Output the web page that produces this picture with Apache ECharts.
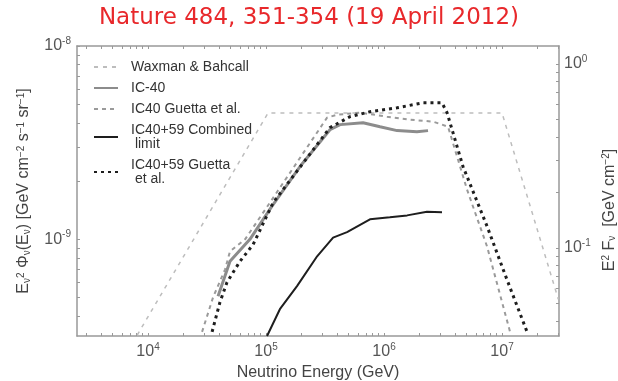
<!DOCTYPE html>
<html>
<head>
<meta charset="utf-8">
<script src="https://cdn.jsdelivr.net/npm/echarts@6/dist/echarts.min.js"></script>
<style>
	html, body { margin: 0; padding: 0; background: #fff; }
	#chart { width: 618px; height: 381px; }
</style>
</head>
<body>
<div id="chart"></div>
<script>
	// energies in GeV, fluxes in GeV cm^-2 s^-1 sr^-1
	const waxmanE = [8.1e3, 1.04e5, 1.0e7, 3.0e7];
	const waxmanF = [3.2e-10, 4.5e-9, 4.5e-9, 4.9e-10];

	const ic40E = [3.92e4, 4.95e4, 7.3e4, 1.12e5, 1.94e5, 3.48e5, 4.24e5, 6.64e5, 9.25e5, 1.29e6, 1.9e6, 2.36e6];
	const ic40F = [5.08e-10, 7.7e-10, 1.0e-9, 1.48e-9, 2.38e-9, 3.69e-9, 3.92e-9, 4.01e-9, 3.82e-9, 3.65e-9, 3.6e-9, 3.65e-9];

	const ic40GuettaE = [2.87e4, 3.56e4, 4.5e4, 4.95e4, 6.64e4, 1.08e5, 3.29e5, 4.0e5, 6.27e5, 1.06e6, 1.66e6, 2.6e6, 3.1e6, 3.49e6, 5.05e6, 7.46e6, 1.17e7];
	const ic40GuettaF = [3.32e-10, 5.02e-10, 7.0e-10, 8.67e-10, 1.0e-9, 1.55e-9, 4.26e-9, 4.41e-9, 4.52e-9, 4.31e-9, 4.16e-9, 4.06e-9, 3.92e-9, 3.82e-9, 1.81e-9, 9.2e-10, 3.32e-10];

	const combinedE = [1.02e5, 1.31e5, 1.83e5, 2.71e5, 3.7e5, 4.86e5, 7.6e5, 1.12e6, 1.57e6, 2.31e6, 3.1e6];
	const combinedF = [3.16e-10, 4.35e-10, 5.73e-10, 8.17e-10, 1.02e-9, 1.09e-9, 1.27e-9, 1.30e-9, 1.33e-9, 1.39e-9, 1.38e-9];

	const guetta59E = [3.49e4, 4.07e4, 4.67e4, 6.02e4, 7.77e4, 1.15e5, 3.48e5, 5.15e5, 7.6e5, 1.29e6, 2.14e6, 3.1e6, 3.42e6, 4.67e6, 7.46e6, 1.1e7, 1.63e7];
	const guetta59F = [3.32e-10, 4.73e-10, 6.0e-10, 7.7e-10, 9.4e-10, 1.55e-9, 3.78e-9, 4.31e-9, 4.57e-9, 4.79e-9, 5.08e-9, 5.08e-9, 4.52e-9, 2.38e-9, 1.17e-9, 6.2e-10, 3.32e-10];

	const xLabels = [1e4, 1e5, 1e6, 1e7];
	const yLabels = [1e-9, 1e-8];
	const y2Labels = [0.1, 1];

	function logTicks(fromExp, toExp) {
		let res = [];
		for (let e = fromExp; e <= toExp; e++) {
			for (let m = 1; m <= 9; m++) {
				res.push(m * Math.pow(10, e));
			}
		}
		return res;
	}

	function zip(xs, ys) {
		return xs.map((x, i) => [x, ys[i]]);
	}

	let font = 'Liberation Sans';
	let supRich = {
		b: { fontSize: 16, lineHeight: 20, color: '#555', fontFamily: font },
		e: { fontSize: 10, lineHeight: 11, color: '#555', verticalAlign: 'top', fontFamily: font }
	};
	let powLabel = (v) => '{b|10}{e|' + Math.round(Math.log10(v)) + '}';

	let nameRich = {
		t: { fontSize: 16, color: '#444', fontFamily: font },
		s: { fontSize: 10, color: '#444', verticalAlign: 'bottom', fontFamily: font },
		p: { fontSize: 10, color: '#444', verticalAlign: 'top', fontFamily: font }
	};

	let axisLine = { show: true, lineStyle: { color: '#999', width: 1.5 } };
	let axisTick = (vals) => ({ show: true, inside: true, length: 3, customValues: vals, lineStyle: { color: '#999' } });

	let xMin = 2500, xMax = 3.04e7;

	let lineSeries = (name, xs, ys, color, width, dash) => ({
		name: name,
		type: 'line',
		data: zip(xs, ys),
		symbol: 'none',
		lineStyle: { color: color, width: width, type: dash ? dash : 'solid' },
		itemStyle: { color: color }
	});

	let option = {
		animation: false,
		title: {
			text: 'Nature 484, 351-354 (19 April 2012)',
			left: 'center',
			top: 2,
			textStyle: { color: '#e8282b', fontSize: 23, fontWeight: 'normal', fontFamily: 'DejaVu Sans' }
		},
		grid: { left: 77, right: 59, top: 46, bottom: 45, outerBoundsMode: 'none', containLabel: false },
		legend: {
			orient: 'vertical',
			left: 93,
			top: 60,
			padding: 0,
			itemWidth: 24,
			itemHeight: 14,
			itemGap: 7,
			itemStyle: { opacity: 0, borderWidth: 0 },
			textStyle: { fontSize: 14, lineHeight: 14, color: '#333', fontFamily: font, padding: [0, 0, 0, 8] },
			data: ['Waxman & Bahcall', 'IC-40', 'IC40 Guetta et al.', 'IC40+59 Combined\n limit', 'IC40+59 Guetta\n et al.']
		},
		xAxis: [{
				type: 'log',
				min: xMin,
				max: xMax,
				name: 'Neutrino Energy (GeV)',
				nameLocation: 'middle',
				nameGap: 26,
				nameTextStyle: { fontSize: 16, color: '#444', fontFamily: font },
				axisLine: axisLine,
				axisTick: axisTick(logTicks(3, 7)),
				splitLine: { show: false },
				axisLabel: { customValues: xLabels, margin: 6, formatter: powLabel, rich: supRich }
			},
			{
				type: 'log',
				position: 'top',
				min: xMin,
				max: xMax,
				axisLine: axisLine,
				axisTick: axisTick(logTicks(3, 7)),
				splitLine: { show: false },
				axisLabel: { show: false }
			}
		],
		yAxis: [{
				type: 'log',
				min: 3.162e-10,
				max: 1e-8,
				name: '{t|E}{s|ν}{p|2}{t| Φ}{s|ν}{t|(E}{s|ν}{t|) [GeV cm}{p|−2}{t| s}{p|−1}{t| sr}{p|−1}{t|]}',
				nameLocation: 'middle',
				nameRotate: 90,
				nameGap: 45,
				nameTextStyle: { rich: nameRich },
				axisLine: axisLine,
				axisTick: axisTick(logTicks(-10, -8)),
				splitLine: { show: false },
				axisLabel: { customValues: yLabels, margin: 6, formatter: powLabel, rich: supRich }
			},
			{
				type: 'log',
				position: 'right',
				min: 0.0332,
				max: 1.25,
				name: '{t|E}{p|2}{t| F}{s|ν}{t|  [GeV cm}{p|−2}{t|]}',
				nameLocation: 'middle',
				nameRotate: 90,
				nameGap: 38,
				nameTextStyle: { rich: nameRich, padding: [0, 38, 0, 0] },
				axisLine: axisLine,
				axisTick: axisTick(logTicks(-2, 0)),
				splitLine: { show: false },
				axisLabel: { customValues: y2Labels, margin: 5, formatter: powLabel, rich: supRich }
			}
		],
		series: [
			lineSeries('Waxman & Bahcall', waxmanE, waxmanF, '#bdbdbd', 1.5, [4, 5]),
			lineSeries('IC-40', ic40E, ic40F, '#8c8c8c', 3),
			lineSeries('IC40 Guetta et al.', ic40GuettaE, ic40GuettaF, '#9a9a9a', 2, [4, 4]),
			lineSeries('IC40+59 Combined\n limit', combinedE, combinedF, '#1e1e1e', 2),
			lineSeries('IC40+59 Guetta\n et al.', guetta59E, guetta59F, '#1e1e1e', 3, [3, 4])
		]
	};

	let chart = echarts.init(document.getElementById('chart'), null, { renderer: 'canvas' });
	chart.setOption(option);
</script>
</body>
</html>
